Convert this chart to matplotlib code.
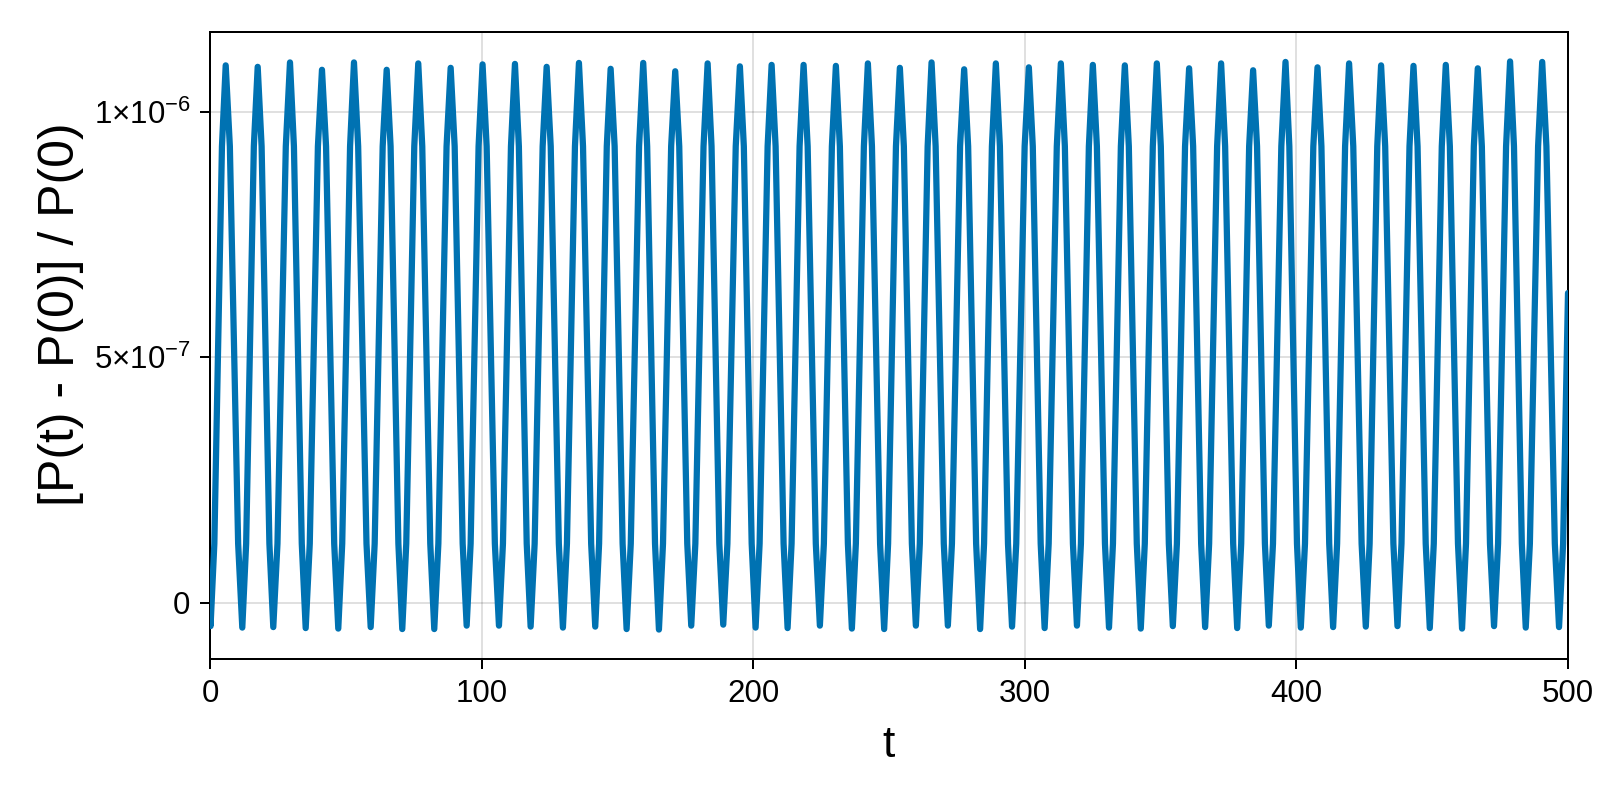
import matplotlib
matplotlib.use("Agg")
import matplotlib.pyplot as plt
import numpy as np

plt.rcParams['font.family'] = ['Liberation Sans', 'DejaVu Sans']
plt.rcParams['mathtext.fontset'] = 'custom'
plt.rcParams['mathtext.rm'] = 'Liberation Sans'
plt.rcParams['mathtext.it'] = 'Liberation Sans:italic'
plt.rcParams['mathtext.bf'] = 'Liberation Sans:bold'

# ---- data (values in units of 1e-6) ----
start_t = [0.0, 0.2]
start_y = [0.0, -0.048]

peak_t = [5.78, 17.56, 29.45, 41.23, 53.01, 65.05, 76.68, 88.61, 100.35, 112.28,
          123.95, 135.84, 147.51, 159.51, 171.29, 183.22, 195.10, 206.78, 218.55, 230.44,
          242.22, 254.00, 265.67, 277.67, 289.34, 301.49, 313.27, 325.05, 336.83, 348.61,
          360.50, 372.28, 384.06, 395.99, 407.77, 419.40, 431.18, 443.11, 455.00, 466.78,
          478.67, 490.5]
peak_y = [1.095, 1.092, 1.101, 1.086, 1.101, 1.086, 1.099, 1.090, 1.097, 1.098,
          1.092, 1.100, 1.088, 1.100, 1.083, 1.099, 1.093, 1.096, 1.096, 1.094,
          1.099, 1.090, 1.101, 1.087, 1.099, 1.091, 1.099, 1.096, 1.095, 1.099,
          1.089, 1.099, 1.085, 1.102, 1.091, 1.099, 1.095, 1.094, 1.096, 1.089,
          1.103, 1.102]

trough_t = [11.89, 23.30, 35.23, 47.23, 59.16, 70.79, 82.57, 94.50, 106.39, 118.05,
            129.94, 141.84, 153.39, 165.29, 177.19, 188.97, 200.88, 212.66, 224.55, 236.33,
            248.22, 259.89, 271.67, 283.55, 295.3, 307.3, 319.2, 331.0, 342.7, 354.5,
            366.4, 378.2, 389.84, 401.62, 413.52, 425.55, 437.22, 449.11, 460.99, 472.77,
            484.44, 496.7]
trough_y = [-0.051, -0.050, -0.052, -0.053, -0.050, -0.054, -0.054, -0.047, -0.047, -0.049,
            -0.051, -0.049, -0.054, -0.055, -0.047, -0.045, -0.051, -0.052, -0.047, -0.053,
            -0.054, -0.047, -0.047, -0.054, -0.049, -0.052, -0.047, -0.051, -0.053, -0.048,
            -0.050, -0.052, -0.047, -0.051, -0.050, -0.049, -0.048, -0.052, -0.053, -0.048,
            -0.051, -0.050]

# times where the curve crosses the upper flank level (~0.93e-6)
upper_level = 0.93
upper_t = [4.4, 7.31, 16.14, 19.0, 27.91, 30.90, 39.73, 42.73, 51.57, 54.55,
           63.58, 66.49, 75.21, 78.15, 87.10, 90.08, 98.89, 101.86, 110.81, 113.72,
           122.48, 125.45, 134.37, 137.34, 146.09, 148.98, 157.98, 160.96, 169.79, 172.77,
           181.71, 184.66, 193.57, 196.55, 205.31, 208.25, 217.08, 220.05, 228.97, 231.91,
           240.75, 243.72, 252.56, 255.47, 264.23, 267.17, 276.17, 279.14, 287.89, 290.83,
           299.94, 302.94, 311.78, 314.75, 323.59, 326.54, 335.37, 338.30, 347.13, 350.08,
           359.0, 361.98, 370.81, 373.76, 382.60, 385.51, 394.45, 397.40, 406.23, 409.21,
           417.93, 420.94, 429.77, 432.69, 441.64, 444.61, 453.53, 456.50, 465.33, 468.28,
           477.20, 480.11, 488.99, 492.05]

# times where the curve crosses the lower flank level (~0.12e-6)
lower_level = 0.12
lower_t = [1.6, 10.36, 13.31, 21.87, 24.84, 33.79, 36.73, 45.73, 48.68, 57.62,
           60.63, 69.36, 72.26, 81.10, 84.08, 93.03, 95.96, 104.88, 107.86, 116.61,
           119.53, 128.44, 131.42, 140.34, 143.26, 151.92, 154.92, 163.85, 166.79, 175.72,
           178.70, 187.53, 190.50, 199.44, 202.36, 211.19, 214.13, 223.05, 226.02, 234.86,
           237.80, 246.72, 249.67, 258.42, 261.34, 270.17, 273.17, 282.08, 285.0, 293.81,
           296.85, 305.85, 308.79, 317.72, 320.66, 329.51, 332.46, 341.23, 344.18, 353.03,
           356.0, 364.93, 367.87, 376.72, 379.67, 388.40, 391.38, 400.21, 403.16, 412.08,
           414.99, 424.01, 426.96, 435.71, 438.69, 447.61, 450.58, 459.49, 462.44, 471.27,
           474.25, 483.0, 485.96, 495.15, 498.2]

end_t = [500.0]
end_y = [0.631]

x_ticks = [0, 100, 200, 300, 400, 500]
x_ticklabels = ["0", "100", "200", "300", "400", "500"]
y_ticks = [0.0, 5e-7, 1e-6]
y_ticklabels = ["0", r"$5{\times}10^{-7}$", r"$1{\times}10^{-6}$"]

# ---- assemble the series ----
t_all = np.concatenate([start_t, peak_t, trough_t, upper_t, lower_t, end_t])
y_all = np.concatenate([start_y, peak_y, trough_y,
                        [upper_level] * len(upper_t), [lower_level] * len(lower_t), end_y])
order = np.argsort(t_all)
t_all = t_all[order]
y_all = y_all[order] * 1e-6

fig = plt.figure(figsize=(16, 8), dpi=100)
ax = fig.add_axes([0.13125, 0.17625, 0.84875, 0.78375])

ax.plot(t_all, y_all, color="#0072B2", linewidth=4.5, solid_joinstyle='round',
        solid_capstyle='round', zorder=3)

ax.set_xlim(0, 500)
ax.set_ylim(-0.115e-6, 1.163e-6)
ax.set_xticks(x_ticks)
ax.set_xticklabels(x_ticklabels)
ax.set_yticks(y_ticks)
ax.set_yticklabels(y_ticklabels)

ax.grid(True, color='black', alpha=0.12, linewidth=1.44, zorder=0)
ax.set_axisbelow(True)
for s in ax.spines.values():
    s.set_linewidth(1.44)
ax.tick_params(axis='both', direction='out', length=7.2, width=1.44,
               labelsize=22.5, pad=7)

ax.set_xlabel("t", fontsize=32, labelpad=12)
ax.set_ylabel("[P(t) - P(0)] / P(0)", fontsize=36)
ax.yaxis.set_label_coords(-0.093, 0.55)

fig.savefig("out.png", dpi=100)
